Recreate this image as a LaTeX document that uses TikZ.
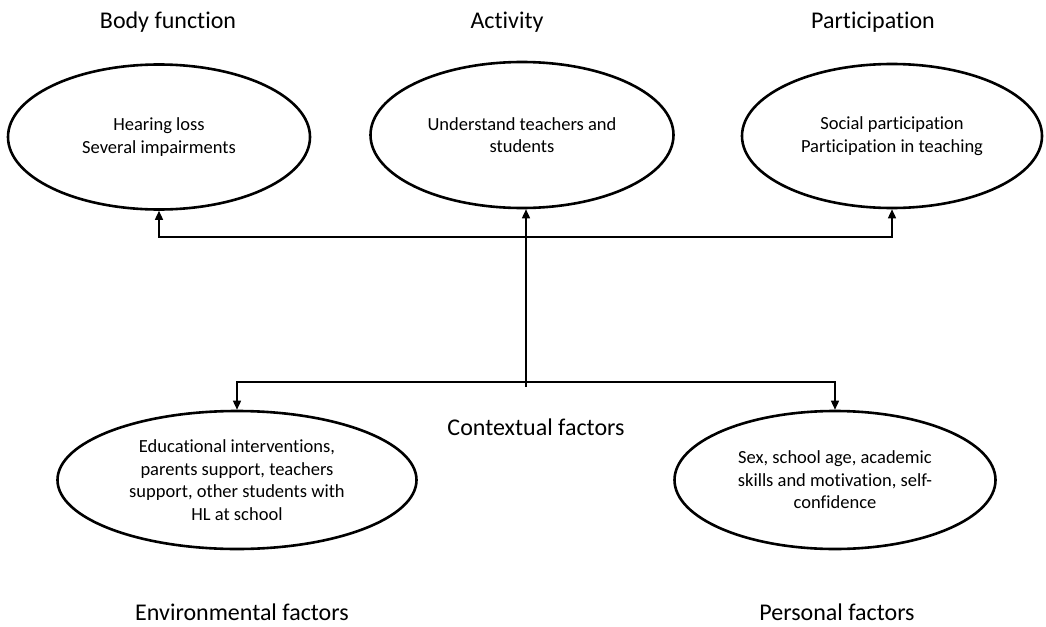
\documentclass[tikz,border=0pt]{standalone}
\usepackage{fontspec}
\setmainfont{Carlito}[Ligatures=NoCommon]
\usetikzlibrary{shapes.geometric,arrows.meta}
\usepackage{xcolor}
\definecolor{icfblack}{rgb}{0,0,0}

\tikzset{
    icfoval/.style={draw=icfblack,ellipse,line width=2.6pt,inner sep=0pt,
        align=center,font=\fontsize{18.5}{22.5}\selectfont},
    icftitle/.style={font=\fontsize{24}{28}\selectfont},
    icfarrow/.style={draw=icfblack,line width=1.5pt,
        -{Triangle[length=9pt,width=8pt]}}
}

\begin{document}
\begin{tikzpicture}[x=1pt,y=-1pt]

    % Page is 1046 x 626 px.
    \useasboundingbox (0,0) rectangle (1046,626);

    % Top row
    \node[icftitle] (bodytitle) at (168,22) {Body function};
    \node[icftitle] (acttitle) at (507,22) {Activity};
    \node[icftitle] (parttitle) at (873,22) {Participation};

    \node[icfoval,minimum width=302pt,minimum height=145pt] (bodyfn) at (159,137)
        {Hearing loss\\Several impairments};
    \node[icfoval,minimum width=303pt,minimum height=146pt] (activity) at (522,135)
        {Understand teachers and\\students};
    \node[icfoval,minimum width=300pt,minimum height=144pt] (particip) at (892,136)
        {Social participation\\Participation in teaching};

    % Bottom row
    \node[icfoval,minimum width=359pt,minimum height=138pt] (environ) at (237,480)
        {Educational interventions,\\parents support, teachers\\support, other students with\\HL at school};
    \node[icfoval,minimum width=321pt,minimum height=138pt] (personal) at (835,480)
        {Sex, school age, academic\\skills and motivation, self-\\confidence};

    \node[icftitle] (context) at (536,427) {Contextual factors};
    \node[icftitle] (envtitle) at (242,612) {Environmental factors};
    \node[icftitle] (perstitle) at (837,612) {Personal factors};

    % Connectors
    \coordinate (upper) at (526,237);
    \coordinate (lower) at (526,382);
    \coordinate (stem) at (526,387);

    \draw[icfarrow] (upper) -| (bodyfn);
    \draw[icfarrow] (upper) -| (particip);
    \draw[icfarrow] (stem) -- (stem |- activity.south);

    \draw[icfarrow] (lower) -| (environ);
    \draw[icfarrow] (lower) -| (personal);

\end{tikzpicture}
\end{document}
